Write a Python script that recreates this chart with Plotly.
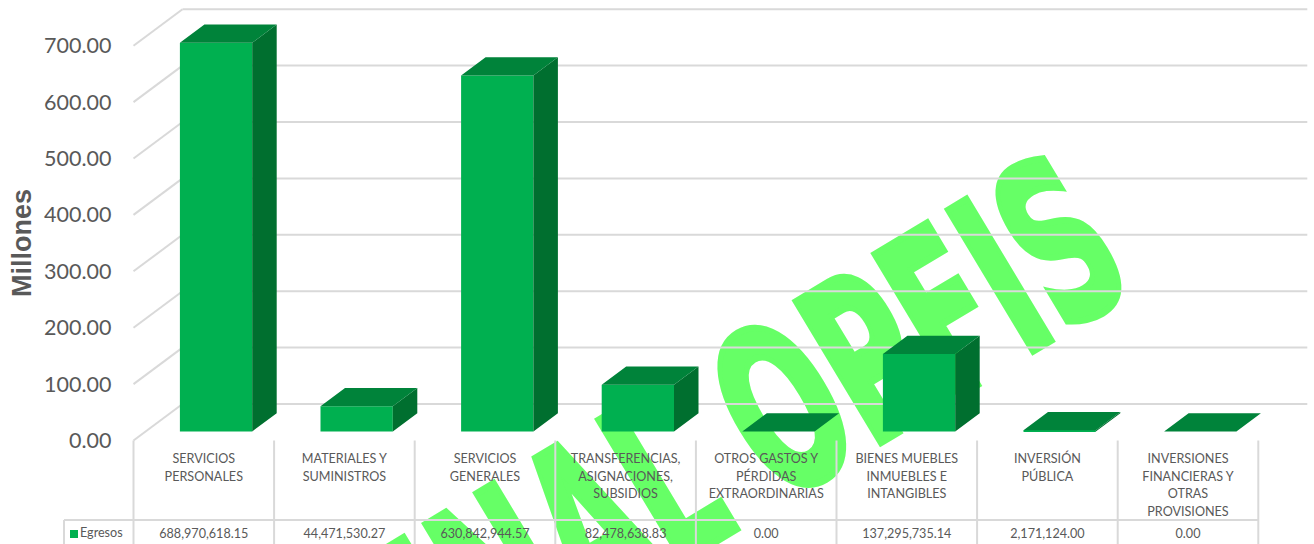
import plotly.graph_objects as go

categories = [
    ["SERVICIOS", "PERSONALES"],
    ["MATERIALES Y", "SUMINISTROS"],
    ["SERVICIOS", "GENERALES"],
    ["TRANSFERENCIAS,", "ASIGNACIONES,", "SUBSIDIOS"],
    ["OTROS GASTOS Y", "PÉRDIDAS", "EXTRAORDINARIAS"],
    ["BIENES MUEBLES", "INMUEBLES E", "INTANGIBLES"],
    ["INVERSIÓN", "PÚBLICA"],
    ["INVERSIONES", "FINANCIERAS Y", "OTRAS", "PROVISIONES"],
]
egresos = [688970618.15, 44471530.27, 630842944.57, 82478638.83, 0.00,
           137295735.14, 2171124.00, 0.00]
ticks = [0, 100, 200, 300, 400, 500, 600, 700]
series_name = "Egresos"
axis_title = "Millones"
watermark = "FINAL OPFIS"

W, H = 1314, 544
CELL = 140.6      # px per category
X0 = 133.5        # px of the plot's left edge
Y0 = 440.5        # px of value 0 on the front edge
PXV = 0.564       # px per million


def xd(px):
    return (px - X0) / CELL - 0.5


def yd(py):
    return (Y0 - py) / PXV


DX = 49 / CELL    # full floor depth in data units
DY = 36.5 / PXV
BW = 72.3 / CELL  # bar width

GRID = "#D9D9D9"
TXT = "#595959"
FRONT, TOP, SIDE = "#00B050", "#00833A", "#006F2F"
FONT = "Lato"

vals = [v / 1e6 for v in egresos]
n = len(vals)
xs = list(range(n))
bx = [i + DX / 4 for i in xs]
base = DY / 4

shapes = []


def line(x0, y0, x1, y1):
    shapes.append(dict(type="line", layer="below", xref="x", yref="y",
                       x0=x0, y0=y0, x1=x1, y1=y1,
                       line=dict(color=GRID, width=2)))


for t in ticks:
    line(-0.5, t, -0.5 + DX, t + DY)
    line(-0.5 + DX, t + DY, n - 0.5 + DX, t + DY)
row_top = yd(520)
row_bot = yd(H + 2)
for i in range(n + 1):
    line(i - 0.5, 0, i - 0.5, row_bot)
line(xd(64), row_top, n - 0.5, row_top)
line(xd(64), row_top, xd(64), row_bot)

fig = go.Figure()
fig.add_trace(go.Bar(x=bx, y=vals, base=[base] * n, width=BW,
                     marker=dict(color=FRONT, line=dict(width=0)),
                     hoverinfo="skip", showlegend=False))

top_x, top_y, side_x, side_y = [], [], [], []
for b, v in zip(bx, vals):
    l, r = b - BW / 2, b + BW / 2
    h = base + v
    top_x += [l, r, r + DX / 2, l + DX / 2, l, None]
    top_y += [h, h, h + DY / 2, h + DY / 2, h, None]
    side_x += [r, r + DX / 2, r + DX / 2, r, r, None]
    side_y += [base, base + DY / 2, h + DY / 2, h, base, None]
fig.add_trace(go.Scatter(x=side_x, y=side_y, mode="lines", fill="toself", fillcolor=SIDE,
                         line=dict(width=0, color=SIDE), hoverinfo="skip", showlegend=False))
fig.add_trace(go.Scatter(x=top_x, y=top_y, mode="lines", fill="toself", fillcolor=TOP,
                         line=dict(width=0, color=TOP), hoverinfo="skip", showlegend=False))

# category labels, one text item per line
LINE = 17.5
lab_x, lab_y, lab_t = [], [], []
for i, lines in enumerate(categories):
    for k, s in enumerate(lines):
        lab_x.append(i)
        lab_y.append(yd(460 + k * LINE))
        lab_t.append(s)
fig.add_trace(go.Scatter(x=lab_x, y=lab_y, text=lab_t, mode="text", textposition="middle center",
                         textfont=dict(family=FONT, size=12.6, color=TXT),
                         hoverinfo="skip", showlegend=False))
# data table row
fig.add_trace(go.Scatter(x=xs, y=[yd(535)] * n, text=[f"{v:,.2f}" for v in egresos],
                         mode="text", textposition="middle center",
                         textfont=dict(family=FONT, size=12.6, color=TXT),
                         hoverinfo="skip", showlegend=False))
fig.add_trace(go.Scatter(x=[xd(74)], y=[yd(534)], mode="markers+text", text=[series_name],
                         textposition="middle right",
                         marker=dict(symbol="square", size=8, color=FRONT),
                         textfont=dict(family=FONT, size=12.6, color=TXT),
                         hoverinfo="skip", showlegend=False))

fig.update_layout(
    width=W, height=H,
    margin=dict(l=0, r=0, t=0, b=0),
    paper_bgcolor="white", plot_bgcolor="rgba(0,0,0,0)",
    barmode="overlay",
    shapes=shapes,
    showlegend=False,
    xaxis=dict(domain=[0, 1], range=[xd(0), xd(W)], visible=False, fixedrange=True),
    yaxis=dict(anchor="free", position=X0 / W, range=[yd(H), yd(0)],
               tickvals=ticks, ticktext=[f"{t:.2f}" for t in ticks],
               tickfont=dict(family=FONT, size=21.5, color=TXT),
               ticklabelstandoff=22, showgrid=False, zeroline=False, showline=False,
               ticks="", fixedrange=True),
    annotations=[
        dict(text=f"<b>{axis_title}</b>", xref="paper", yref="paper",
             x=22 / W, y=1 - 243 / H, xanchor="center", yanchor="middle",
             showarrow=False, textangle=-90,
             font=dict(family="Liberation Sans", size=27, color=TXT)),
        dict(text=f"<b>{watermark}</b>", xref="paper", yref="paper",
             x=722 / W, y=1 - 446 / H, xanchor="center", yanchor="middle",
             showarrow=False, textangle=-31,
             font=dict(family="DejaVu Sans", size=226, color="#66FF66")),
    ],
)

post = """
document.body.style.margin = '0';
var gd = document.getElementById('{plot_id}');
var anns = gd.querySelectorAll('g.annotation');
var wm = anns[anns.length - 1];
var t = wm.querySelector('text');
var b = t.getBBox();
var cx = b.x + b.width / 2;
t.setAttribute('transform', 'translate(' + cx + ',0) scale(0.555,1) translate(' + (-cx) + ',0)');
t.style.stroke = '#66FF66';
t.style.strokeWidth = '7px';
t.style.strokeLinejoin = 'miter';
var layer = gd.querySelector('.cartesianlayer');
layer.parentNode.insertBefore(wm, layer);
"""
fig.write_html("out.html", post_script=post, config=dict(displayModeBar=False))
